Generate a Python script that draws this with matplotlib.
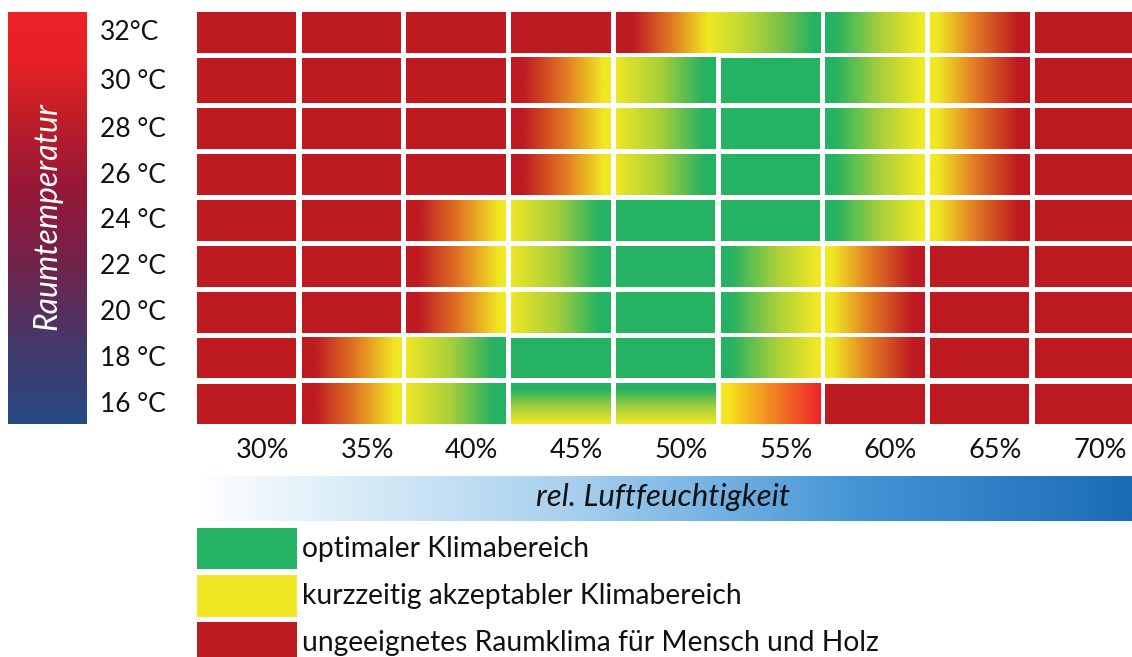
import numpy as np
import matplotlib
matplotlib.use("Agg")
import matplotlib.pyplot as plt
from matplotlib.colors import LinearSegmentedColormap

# ---------------- data ----------------
temps = ["32°C", "30 °C", "28 °C", "26 °C", "24 °C", "22 °C", "20 °C", "18 °C", "16 °C"]
humidity = ["30%", "35%", "40%", "45%", "50%", "55%", "60%", "65%", "70%"]
# cell codes per row (top to bottom), one per humidity column
# R red, G green, RY red->yellow, YG yellow->green, GY green->yellow, YR yellow->red,
# GYv green(top)->yellow(bottom), YRb yellow->bright red, RYG merged (spans 2 cols), "-" covered by merge
cells = [
    ["R", "R", "R", "R", "RYG", "-", "GY", "YR", "R"],
    ["R", "R", "R", "RY", "YG", "G", "GY", "YR", "R"],
    ["R", "R", "R", "RY", "YG", "G", "GY", "YR", "R"],
    ["R", "R", "R", "RY", "YG", "G", "GY", "YR", "R"],
    ["R", "R", "RY", "YG", "G", "G", "GY", "YR", "R"],
    ["R", "R", "RY", "YG", "G", "GY", "YR", "R", "R"],
    ["R", "R", "RY", "YG", "G", "GY", "YR", "R", "R"],
    ["R", "RY", "YG", "G", "G", "GY", "YR", "R", "R"],
    ["R", "RY", "YG", "GYv", "GYv", "YRb", "R", "R", "R"],
]
legend_labels = ["optimaler Klimabereich",
                 "kurzzeitig akzeptabler Klimabereich",
                 "ungeeignetes Raumklima für Mensch und Holz"]
y_title = "Raumtemperatur"
x_title = "rel. Luftfeuchtigkeit"

# ---------------- style ----------------
RED = "#be1a22"
GREEN = "#25b262"
YELLOW = "#f0e824"
ORANGE = "#e27a22"
LIME = "#a8cf3a"
FONT = ["Lato", "DejaVu Sans"]

stops = {
    "RY": [(0, RED), (0.12, RED), (0.55, ORANGE), (0.93, YELLOW), (1, YELLOW)],
    "YG": [(0, YELLOW), (0.05, "#e6e428"), (0.45, LIME), (0.88, GREEN), (1, GREEN)],
    "GY": [(0, GREEN), (0.1, GREEN), (0.55, LIME), (0.95, YELLOW), (1, YELLOW)],
    "YR": [(0, YELLOW), (0.07, YELLOW), (0.45, ORANGE), (0.88, RED), (1, RED)],
    "GYv": [(0, GREEN), (0.15, GREEN), (0.6, LIME), (1, YELLOW)],
    "YRb": [(0, YELLOW), (0.08, "#f7e21e"), (0.45, "#f39421"), (1, "#ec2227")],
    "RYG": [(0, RED), (0.08, RED), (0.27, ORANGE), (0.45, YELLOW), (0.6, "#c4dc30"),
            (0.78, "#86c444"), (0.97, GREEN), (1, GREEN)],
}


def grad(code, n=256):
    cm = LinearSegmentedColormap.from_list(code, stops[code])
    return cm(np.linspace(0, 1, n))[:, :3]


W, H = 1132, 657
fig = plt.figure(figsize=(W / 100, H / 100), dpi=100)

# background overlay axes in pixel coordinates
bg = fig.add_axes([0, 0, 1, 1])
bg.set_xlim(0, W)
bg.set_ylim(H, 0)
bg.axis("off")

# temperature bar
tcm = LinearSegmentedColormap.from_list("t", [(0, "#ee2228"), (0.12, "#e82027"), (0.24, "#c41e26"),
                                               (0.42, "#981838"), (0.6, "#742248"),
                                               (0.8, "#46386a"), (1, "#264a84")])
bg.imshow(tcm(np.linspace(0, 1, 256))[:, None, :3], extent=(8, 87, 424, 12), aspect="auto",
          interpolation="bilinear")
bg.text(47, 216, y_title, rotation=90, color="white", fontsize=23, style="italic",
        ha="center", va="center", family=FONT)

# humidity bar
hcm = LinearSegmentedColormap.from_list("h", [(0, "#ffffff"), (0.15, "#dceef8"),
                                               (0.4, "#a8d0ee"), (0.7, "#4596d6"), (1, "#1a6cb6")])
bg.imshow(hcm(np.linspace(0, 1, 256))[None, :, :3], extent=(197, 1132, 521, 476), aspect="auto",
          interpolation="bilinear")
bg.text(663, 497, x_title, color="#111111", fontsize=22.5, style="italic",
        ha="center", va="center", family=FONT)

# legend swatches
leg_cols = [GREEN, YELLOW, RED]
leg_y = [(528, 569), (575, 617), (622, 664)]
for col, (y0, y1), lab in zip(leg_cols, leg_y, legend_labels):
    bg.add_patch(plt.Rectangle((197, y0), 100, y1 - y0, color=col, lw=0))
    bg.text(302, (y0 + y1) / 2, lab, fontsize=20.3, ha="left", va="center", color="#111111",
            family=FONT)

# main grid axes
ax = fig.add_axes([197 / W, (H - 424.3) / H, (W - 197) / W, (424.3 - 12) / H])
cw, ch = 0.95, 0.887
top_shift = 0.1   # top row sits a little higher, second row is taller
nrows = len(temps)
for r, row in enumerate(cells):
    k = nrows - 1 - r
    y0, h = float(k), ch
    if r == 0:
        y0 += top_shift
    elif r == 1:
        h += top_shift - 0.006
    for c, code in enumerate(row):
        if code == "-":
            continue
        x0 = c
        w = 1 + cw if code == "RYG" else cw
        if code in ("R", "G"):
            ax.add_patch(plt.Rectangle((x0, y0), w, h, color=RED if code == "R" else GREEN, lw=0))
        elif code == "GYv":
            ax.imshow(grad(code)[:, None, :], extent=(x0, x0 + w, y0, y0 + h),
                      origin="upper", aspect="auto", interpolation="bilinear")
        else:
            ax.imshow(grad(code)[None, :, :], extent=(x0, x0 + w, y0, y0 + h),
                      aspect="auto", interpolation="bilinear")
    ax.text(-97 / 104.7, y0 + h / 2 - 0.01, temps[r], fontsize=19, ha="left", va="center",
            color="#111111", family=FONT, clip_on=False)
ax.set_xlim(0, 8.93)
ax.set_ylim(0, 8 + top_shift + ch)
ax.axis("off")

for c, lab in enumerate(humidity):
    ax.text(c + cw / 2 + 0.15, -0.58, lab, fontsize=19.5, ha="center", va="center",
            color="#111111", family=FONT, clip_on=False)

fig.savefig("out.png", dpi=100)
